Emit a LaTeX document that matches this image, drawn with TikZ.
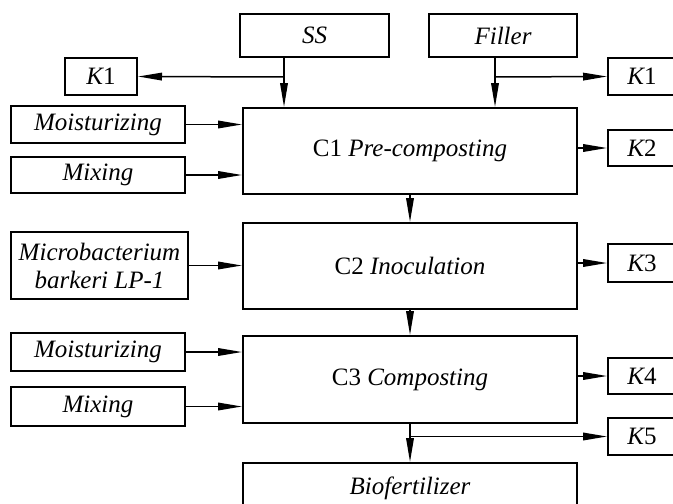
\documentclass[tikz,border=0pt]{standalone}
\usepackage{fontspec}
\setmainfont{Liberation Serif}[ItalicFont=Liberation Serif Italic]
\usepackage{tikz}
\usetikzlibrary{positioning, arrows.meta}

\begin{document}
\begin{tikzpicture}[
    x=0.5pt, y=-0.5pt,
    every node/.style={draw,line width=1pt,inner sep=1pt,align=center,
        font=\fontsize{12.5}{14}\selectfont\itshape},
    arr/.style={line width=0.75pt,-{Triangle[length=12pt,width=3.8pt]}}
]
\useasboundingbox (0,0) rectangle (673,503);

% =============================
% 0. Inputs on top
% =============================
\node[minimum width=74.5pt,minimum height=21.5pt] (ss) at (314.5,35.5) {SS};
\node[minimum width=74pt,minimum height=21.5pt] (filler) at (503,35.5) {Filler};
\node[minimum width=36pt,minimum height=18.5pt] (kla) at (101,76.5) {K\upshape 1};
\node[minimum width=34pt,minimum height=18.5pt] (klb) at (642,76.5) {K\upshape 1};

% =============================
% 1. Pre-composting
% =============================
\node[minimum width=87pt,minimum height=18.5pt] (moista) at (98,124.5) {Moisturizing};
\node[minimum width=87pt,minimum height=18pt] (mixa) at (98,175) {Mixing};
\node[minimum width=167pt,minimum height=43pt] (cone) at (410,151) {{\upshape C1} Pre-composting};
\node[minimum width=34pt,minimum height=18pt] (ktwo) at (642,148) {K\upshape 2};

\coordinate (sj) at (284,77);
\coordinate (fj) at (495,77);
\draw[arr] (ss.south -| sj) -- (cone.north -| sj);
\draw[arr] (sj) -- (kla.east);
\draw[arr] (filler.south -| fj) -- (cone.north -| fj);
\draw[arr] (fj) -- (klb.west);
\draw[arr] (moista.east) -- (cone.west |- moista.east);
\draw[arr] (mixa.east) -- (cone.west |- mixa.east);
\draw[arr] (cone.east |- ktwo.west) -- (ktwo.west);

% =============================
% 2. Inoculation
% =============================
\node[minimum width=88.5pt,minimum height=33.5pt] (micro) at (99.5,265.5) {Microbacterium\\barkeri LP-1};
\node[minimum width=167pt,minimum height=43pt] (ctwo) at (410,266) {{\upshape C2} Inoculation};
\node[minimum width=34pt,minimum height=19pt] (kthree) at (642,263) {K\upshape 3};

\draw[arr] (cone.south) -- (ctwo.north);
\draw[arr] (micro.east) -- (ctwo.west |- micro.east);
\draw[arr] (ctwo.east |- kthree.west) -- (kthree.west);

% =============================
% 3. Composting
% =============================
\node[minimum width=87pt,minimum height=19pt] (moistb) at (98,352) {Moisturizing};
\node[minimum width=87pt,minimum height=19.5pt] (mixb) at (98,406.5) {Mixing};
\node[minimum width=167pt,minimum height=43.5pt] (cthree) at (410,379.5) {{\upshape C3} Composting};
\node[minimum width=34pt,minimum height=18pt] (kfour) at (642,376) {K\upshape 4};
\node[minimum width=34pt,minimum height=18.5pt] (kfive) at (642,436.5) {K\upshape 5};

\draw[arr] (ctwo.south) -- (cthree.north);
\draw[arr] (moistb.east) -- (cthree.west |- moistb.east);
\draw[arr] (mixb.east) -- (cthree.west |- mixb.east);
\draw[arr] (cthree.east |- kfour.west) -- (kfour.west);

% =============================
% 4. Product
% =============================
\node[minimum width=167pt,minimum height=25pt] (bio) at (410,488) {Biofertilizer};

\coordinate (cj) at (410,436.5);
\draw[arr] (cthree.south) -- (bio.north);
\draw[arr] (cj) -- (kfive.west);
\end{tikzpicture}
\end{document}
